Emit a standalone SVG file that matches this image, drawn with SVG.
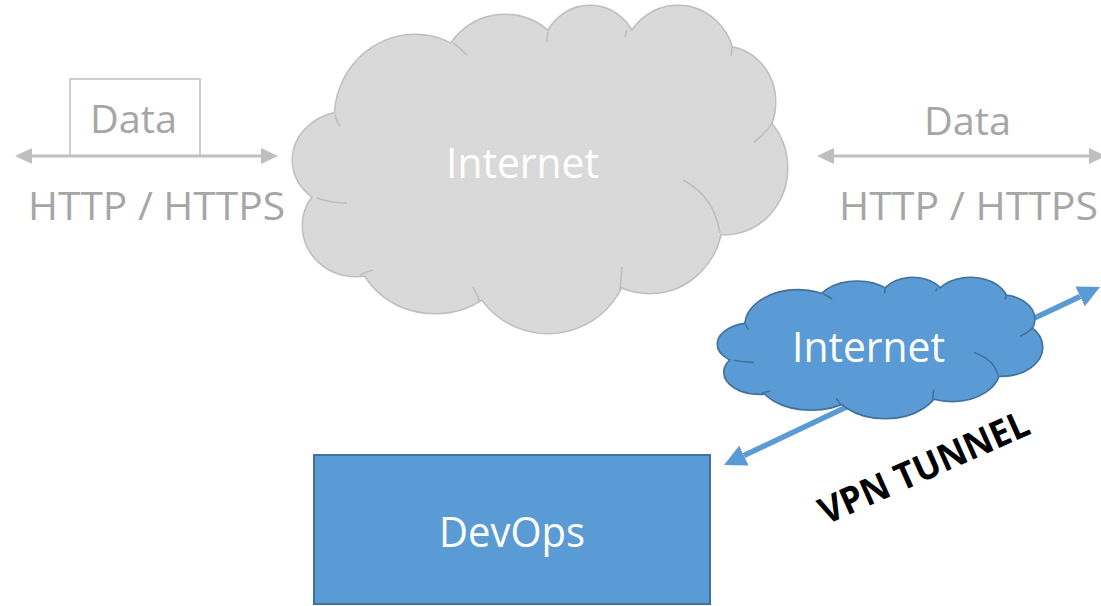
<svg xmlns="http://www.w3.org/2000/svg" xmlns:xlink="http://www.w3.org/1999/xlink" width="1101" height="606" viewBox="0 0 1101 606">
<style>
.lbl{font-family:"Open Sans","Liberation Sans",sans-serif;fill:#a6a6a6;font-size:38px}
.wt{font-family:"Open Sans","Liberation Sans",sans-serif;fill:#ffffff;font-size:42px}
.vpn{font-family:"Open Sans","Liberation Sans",sans-serif;fill:#000000;font-size:37px;font-weight:700}
.garrow{stroke:#bfbfbf;stroke-width:3;fill:none}
.barrow{stroke:#5b9bd5;stroke-width:5.5;fill:none}
</style>
<defs>
<g id="cloudShape">
<ellipse cx="348" cy="160" rx="55" ry="48" vector-effect="non-scaling-stroke"/>
<ellipse cx="356" cy="226" rx="53" ry="50" vector-effect="non-scaling-stroke"/>
<ellipse cx="435" cy="240" rx="80" ry="73" vector-effect="non-scaling-stroke"/>
<ellipse cx="548" cy="250" rx="82" ry="83" vector-effect="non-scaling-stroke"/>
<ellipse cx="650" cy="218" rx="72" ry="75" vector-effect="non-scaling-stroke"/>
<ellipse cx="725" cy="168" rx="62" ry="66" vector-effect="non-scaling-stroke"/>
<ellipse cx="724" cy="102" rx="51" ry="55" vector-effect="non-scaling-stroke"/>
<ellipse cx="678" cy="64" rx="56" ry="58" vector-effect="non-scaling-stroke"/>
<ellipse cx="590" cy="56" rx="48" ry="50" vector-effect="non-scaling-stroke"/>
<ellipse cx="505" cy="80" rx="65" ry="65" vector-effect="non-scaling-stroke"/>
<ellipse cx="415" cy="118" rx="80" ry="83" vector-effect="non-scaling-stroke"/>
<ellipse cx="545" cy="170" rx="190" ry="110" vector-effect="non-scaling-stroke"/>
</g>
<g id="cloudCreases">
<path d="M317,198 Q330,203 347,203" vector-effect="non-scaling-stroke"/>
<path d="M335,115 Q336,121 340,126" vector-effect="non-scaling-stroke"/>
<path d="M453,43 Q460,48 467,55" vector-effect="non-scaling-stroke"/>
<path d="M548,32 Q547,36 547,42" vector-effect="non-scaling-stroke"/>
<path d="M627,30 Q626,33 625,37" vector-effect="non-scaling-stroke"/>
<path d="M732,47 Q732,51 731,56" vector-effect="non-scaling-stroke"/>
<path d="M772,123 Q765,134 754,142" vector-effect="non-scaling-stroke"/>
<path d="M683,180 Q714,196 720,233" vector-effect="non-scaling-stroke"/>
<path d="M620,290 Q621,278 622,267" vector-effect="non-scaling-stroke"/>
<path d="M480,302 Q477,294 473,287" vector-effect="non-scaling-stroke"/>
<path d="M360,275 Q366,272 373,270" vector-effect="non-scaling-stroke"/>
</g>
<marker id="gHead" markerUnits="userSpaceOnUse" viewBox="0 0 17 16" refX="0" refY="8" markerWidth="17" markerHeight="16" orient="auto-start-reverse">
<path d="M0,0 L17,8 L0,16 z" fill="#bfbfbf"/>
</marker>
<marker id="bHead" markerUnits="userSpaceOnUse" viewBox="0 0 22 22" refX="0" refY="11" markerWidth="22" markerHeight="22" orient="auto-start-reverse">
<path d="M0,0 L22,11 L0,22 z" fill="#5b9bd5"/>
</marker>
</defs>

<g id="internet-gray">
<use xlink:href="#cloudShape" fill="#d9d9d9" stroke="#bfbfbf" stroke-width="3"/>
<use xlink:href="#cloudShape" fill="#d9d9d9" stroke="none"/>
<use xlink:href="#cloudCreases" fill="none" stroke="#bfbfbf" stroke-width="1.6"/>
<text class="wt" x="446" y="178" textLength="153" lengthAdjust="spacingAndGlyphs">Internet</text>
</g>

<g id="data-left">
<rect x="70" y="79" width="130" height="77" fill="none" stroke="#bfbfbf" stroke-width="1.5"/>
<text class="lbl" x="90" y="133" textLength="87" lengthAdjust="spacingAndGlyphs">Data</text>
<text class="lbl" x="28" y="220" textLength="257" lengthAdjust="spacingAndGlyphs">HTTP / HTTPS</text>
</g>

<g id="data-right">
<text class="lbl" x="924" y="135" textLength="87" lengthAdjust="spacingAndGlyphs">Data</text>
<text class="lbl" x="839" y="220" textLength="259" lengthAdjust="spacingAndGlyphs">HTTP / HTTPS</text>
</g>

<g id="connectors">
<line class="garrow" x1="32" y1="156" x2="261" y2="156" marker-start="url(#gHead)" marker-end="url(#gHead)"/>
<line class="garrow" x1="834" y1="156" x2="1089" y2="156" marker-start="url(#gHead)" marker-end="url(#gHead)"/>
<line class="barrow" x1="743.9" y1="455.6" x2="1080.1" y2="296.4" marker-start="url(#bHead)" marker-end="url(#bHead)"/>
</g>

<g id="internet-blue">
<g transform="translate(718,278) scale(0.6559,0.4281) translate(-293,-6)">
<use xlink:href="#cloudShape" fill="#5b9bd5" stroke="#41719c" stroke-width="3.2"/>
<use xlink:href="#cloudShape" fill="#5b9bd5" stroke="none"/>
<use xlink:href="#cloudCreases" fill="none" stroke="#41719c" stroke-width="1.6"/>
</g>
<text class="wt" x="792" y="362" textLength="153" lengthAdjust="spacingAndGlyphs">Internet</text>
</g>

<g id="devops">
<rect x="314" y="455" width="396" height="149" fill="#5b9bd5" stroke="#41719c" stroke-width="2"/>
<text class="wt" x="439" y="547" textLength="146" lengthAdjust="spacingAndGlyphs">DevOps</text>
</g>

<g id="vpn-label">
<text class="vpn" x="826" y="525" transform="rotate(-24 826 525)" textLength="226" lengthAdjust="spacingAndGlyphs">VPN TUNNEL</text>
</g>
</svg>
